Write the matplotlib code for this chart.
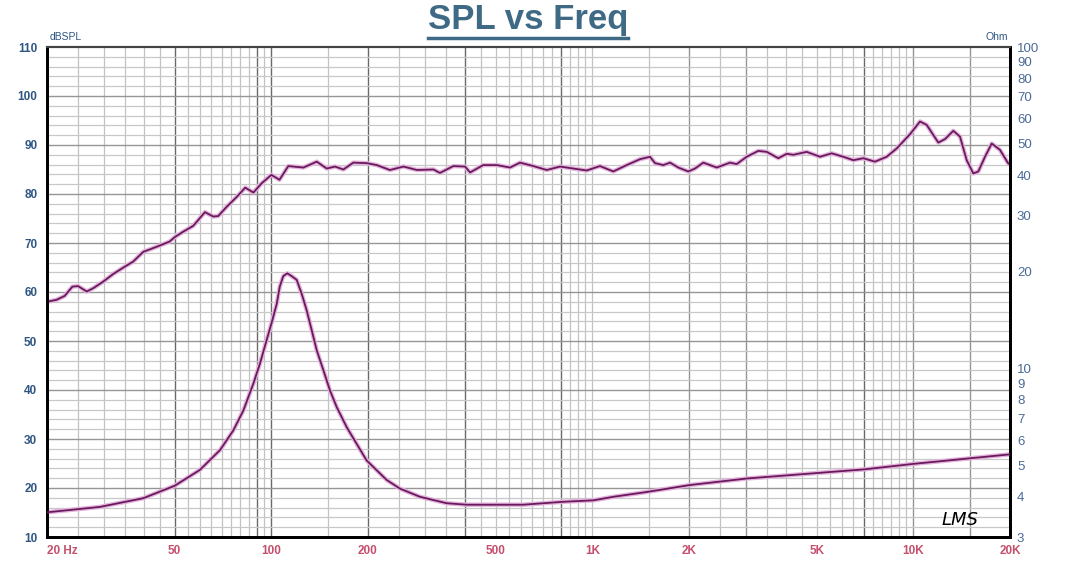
import matplotlib
matplotlib.use("Agg")
import matplotlib.pyplot as plt
from matplotlib.lines import Line2D
import numpy as np

# ---------------- data ----------------
spl_freq = [20, 21.4, 22.7, 24.0, 25.0, 26.6, 27.9, 29.9, 32.2, 34.6, 37.1, 39.9, 43.8, 48.2,
            50.0, 53.1, 57.1, 62.1, 65.9, 68.3, 72.6, 78.0, 82.9, 87.9, 93.3, 100, 106, 112.9,
            125.8, 138.5, 148.7, 157.8, 167.6, 180, 198, 213, 234, 258, 284, 320, 335, 369,
            401, 416, 457, 504, 554, 595, 655, 721, 793, 872, 960, 1056, 1162, 1279, 1407,
            1512, 1567, 1663, 1746, 1852, 1990, 2088, 2216, 2440, 2684, 2815, 3026, 3288,
            3493, 3796, 4031, 4227, 4653, 5119, 5567, 6048, 6501, 6982, 7594, 8260, 8873,
            9761, 10487, 11003, 11958, 12546, 13318, 13973, 14660, 15373, 15934, 16718,
            17541, 18617, 19717, 20000]
spl_db = [58.0, 58.4, 59.2, 61.1, 61.2, 60.1, 60.8, 62.1, 63.7, 65.0, 66.2, 68.2, 69.2, 70.3,
          71.2, 72.3, 73.5, 76.3, 75.4, 75.5, 77.4, 79.4, 81.3, 80.3, 82.2, 83.9, 82.9, 85.7,
          85.4, 86.6, 85.2, 85.6, 85.0, 86.4, 86.3, 85.9, 84.9, 85.6, 84.9, 85.0, 84.3, 85.7,
          85.6, 84.4, 85.9, 85.9, 85.4, 86.4, 85.7, 84.9, 85.6, 85.2, 84.8, 85.7, 84.6, 85.9,
          87.1, 87.6, 86.3, 85.9, 86.4, 85.4, 84.6, 85.2, 86.4, 85.4, 86.4, 86.1, 87.6, 88.8,
          88.6, 87.3, 88.2, 88.0, 88.6, 87.6, 88.3, 87.6, 86.9, 87.3, 86.6, 87.6, 89.3,
          92.2, 94.8, 94.1, 90.5, 91.2, 92.9, 91.7, 86.9, 84.2, 84.6, 87.6,
          90.3, 89.0, 86.3, 86.0]

imp_freq = [20, 29.2, 39.9, 50, 59.9, 69.2, 76.1, 81.8, 87.9, 92.2, 96.7, 100, 103.9, 106.2,
            108.9, 112.1, 115.7, 119.9, 124.3, 128.8, 133.5, 138.5, 145.2, 152.2, 159.8,
            171.7, 198, 228.8, 251.7, 290.4, 351.8, 406, 609, 812, 1007, 1162, 1477, 2008,
            3030, 5119, 7066, 9955, 20000]
imp_ohm = [3.58, 3.72, 3.96, 4.33, 4.85, 5.59, 6.43, 7.42, 9.0, 10.4, 12.3, 13.8, 15.9, 18.0,
           19.4, 19.8, 19.4, 18.9, 17.1, 15.2, 13.2, 11.4, 9.9, 8.57, 7.6,
           6.58, 5.19, 4.51, 4.24, 4.00, 3.82, 3.78, 3.78, 3.86, 3.90, 4.00, 4.14, 4.35,
           4.56, 4.75, 4.87, 5.06, 5.42]

x_tick_vals = [20, 50, 100, 200, 500, 1000, 2000, 5000, 10000, 20000]
x_tick_labels = ["20 Hz", "50", "100", "200", "500", "1K", "2K", "5K", "10K", "20K"]
left_ticks = [10, 20, 30, 40, 50, 60, 70, 80, 90, 100, 110]
right_ticks = [3, 4, 5, 6, 7, 8, 9, 10, 20, 30, 40, 50, 60, 70, 80, 90, 100]

# ---------------- styling ----------------
plt.rcParams['font.family'] = ['Liberation Sans', 'DejaVu Sans']
W, H = 1075, 571
fig = plt.figure(figsize=(W / 100, H / 100), dpi=100)
fig.patch.set_facecolor('white')

L, R, T, B = 47, 1010, 47, 537
ax = fig.add_axes([L / W, 1 - B / H, (R - L) / W, (B - T) / H])
ax.set_xscale('log')
ax.set_xlim(20, 20000)
ax.set_ylim(10, 110)

# vertical grid lines: every half-step within each decade
vlines = []
for d in [10, 100, 1000, 10000]:
    for m in np.arange(1.0, 10.0, 0.5):
        v = m * d
        if 20 < v < 20000:
            vlines.append(v)
dark_v = [50, 90, 100, 200, 400, 800, 7000]
mid_v = [2000, 3000, 10000, 15000]
for v in vlines:
    if any(abs(v - dv) < 1e-6 for dv in dark_v):
        c, lw = '#6a6a6a', 1.0
    elif any(abs(v - mv) < 1e-6 for mv in mid_v):
        c, lw = '#959595', 1.0
    else:
        c, lw = '#c2c2c2', 0.9
    ax.axvline(v, color=c, lw=lw, zorder=0)
for hv in range(12, 110, 2):
    if hv % 10 == 0:
        ax.axhline(hv, color='#969696', lw=1.0, zorder=0)
    else:
        ax.axhline(hv, color='#c8c8c8', lw=0.9, zorder=0)

# curves
ax.plot(spl_freq, spl_db, color='#e3b3dc', lw=3.2, zorder=2, solid_capstyle='round')
ax.plot(spl_freq, spl_db, color='#6a1a5c', lw=1.3, zorder=3)

ax2 = ax.twinx()
ax2.set_yscale('log')
ax2.set_ylim(3, 100)
ax2.set_xlim(20, 20000)
ax2.plot(imp_freq, imp_ohm, color='#e3b3dc', lw=3.2, zorder=2, solid_capstyle='round')
ax2.plot(imp_freq, imp_ohm, color='#6a1a5c', lw=1.3, zorder=3)

# ticks
ax.set_xticks(x_tick_vals)
ax.set_xticklabels(x_tick_labels)
ax.xaxis.set_minor_locator(matplotlib.ticker.NullLocator())
ax.tick_params(axis='x', length=0, pad=6, labelsize=8.5, labelcolor='#c4506c')
for lab in ax.get_xticklabels():
    lab.set_fontweight('bold')
ax.get_xticklabels()[0].set_horizontalalignment('left')

ax.set_yticks(left_ticks)
ax.set_yticklabels([str(t) for t in left_ticks])
ax.tick_params(axis='y', length=0, pad=7, labelsize=8.5, labelcolor='#2f5683')
for lab in ax.get_yticklabels():
    lab.set_fontweight('bold')

ax2.set_yticks(right_ticks)
ax2.set_yticklabels([str(t) for t in right_ticks])
ax2.yaxis.set_minor_locator(matplotlib.ticker.NullLocator())
ax2.tick_params(axis='y', length=0, pad=5, labelsize=9.5, labelcolor='#4a6a98')

for a in (ax, ax2):
    for s in ['left', 'right', 'bottom']:
        a.spines[s].set_color('black')
        a.spines[s].set_linewidth(2.0)
    a.spines['top'].set_color('#444444')
    a.spines['top'].set_linewidth(1.5)

# axis unit labels
fig.text(50 / W, 1 - 37 / H, 'dBSPL', fontsize=7.5, color='#2f5683', ha='left', va='center')
fig.text(1008 / W, 1 - 37 / H, 'Ohm', fontsize=7.5, color='#2f5683', ha='right', va='center')

# LMS mark
ax.text(0.948, 0.035, 'LMS', transform=ax.transAxes, fontsize=13, style='italic',
        family='DejaVu Sans', color='black', ha='center', va='center', zorder=5)

# title with underline
title = fig.text(528 / W, 1 - 29 / H, 'SPL vs Freq', fontsize=25, fontweight='bold',
                 color='#3f6a85', ha='center', va='baseline')
fig.canvas.draw()
bb = title.get_window_extent(fig.canvas.get_renderer())
ux0, ux1 = bb.x0 / W, bb.x1 / W
uy = 1 - 38 / H
fig.add_artist(Line2D([ux0, ux1], [uy, uy], transform=fig.transFigure,
                      color='#3f6a85', lw=2.5))

fig.savefig('out.png', dpi=100, facecolor='white')
